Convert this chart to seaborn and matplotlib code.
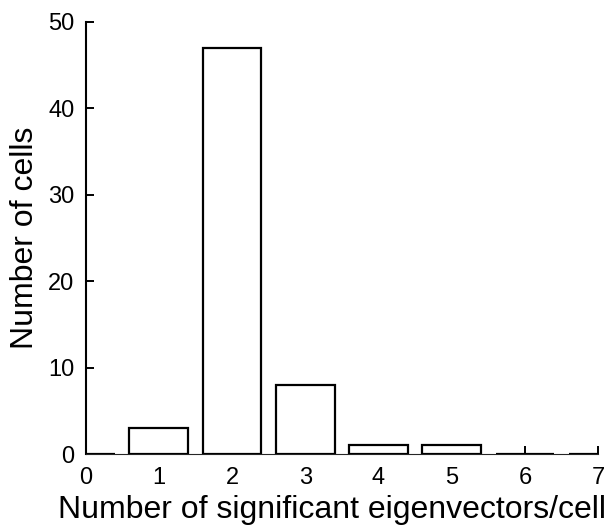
import matplotlib
matplotlib.use("Agg")
import matplotlib.pyplot as plt
import seaborn as sns
import pandas as pd

# histogram of significant eigenvectors per cell
n_eig = [0, 1, 2, 3, 4, 5, 6, 7]
n_cells = [0, 3, 47, 8, 1, 1, 0, 0]

sns.set_style("ticks")
plt.rcParams['font.family'] = ['Liberation Sans', 'DejaVu Sans']
plt.rcParams['text.color'] = 'black'
plt.rcParams['axes.labelcolor'] = 'black'
plt.rcParams['xtick.color'] = 'black'
plt.rcParams['ytick.color'] = 'black'

df = pd.DataFrame({'eig': n_eig, 'cells': n_cells})

fig = plt.figure(figsize=(6.11, 5.27), dpi=100)
ax = fig.add_axes([0.140, 0.1385, 0.839, 0.82])
sns.barplot(data=df, x='eig', y='cells', order=n_eig, color='white',
            edgecolor='black', linewidth=1.6, width=0.8, saturation=1, ax=ax)
for p in ax.patches:
    p.set_facecolor('white')
    p.set_zorder(3)

ax.set_axisbelow(True)
ax.set_xlim(0, 7)
ax.set_ylim(0, 50)
ax.set_xticks(range(8))
ax.set_xticklabels([str(v) for v in n_eig])
ax.set_yticks([0, 10, 20, 30, 40, 50])
ax.tick_params(direction='in', length=6, width=1.4, labelsize=17)
ax.tick_params(axis='y', pad=8)
ax.tick_params(axis='x', pad=9)
ax.spines['left'].set_linewidth(1.5)
ax.spines['left'].set_color('black')
ax.spines['bottom'].set_visible(False)
sns.despine(ax=ax)
ax.set_xlabel('Number of significant eigenvectors/cell', fontsize=23, labelpad=7)
ax.xaxis.set_label_coords(0.48, -0.095, transform=ax.transAxes)
ax.xaxis.label.set_va('top')
ax.set_ylabel('Number of cells', fontsize=23, labelpad=6)

fig.savefig('out.png', dpi=100)
